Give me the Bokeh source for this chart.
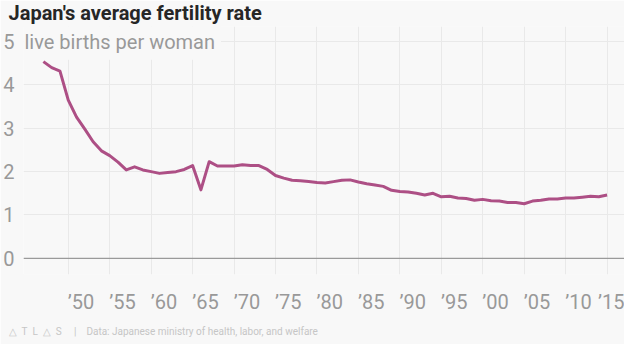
from bokeh.plotting import figure
from bokeh.models import Label, Span, FixedTicker, Range1d, Title
from bokeh.embed import file_html
from bokeh.resources import INLINE

years = list(range(1947, 2016))
fertility = [4.54, 4.40, 4.32, 3.65, 3.26, 2.98, 2.69, 2.48, 2.37, 2.22,
             2.04, 2.11, 2.04, 2.00, 1.96, 1.98, 2.00, 2.05, 2.14, 1.58,
             2.23, 2.13, 2.13, 2.13, 2.16, 2.14, 2.14, 2.05, 1.91, 1.85,
             1.80, 1.79, 1.77, 1.75, 1.74, 1.77, 1.80, 1.81, 1.76, 1.72,
             1.69, 1.66, 1.57, 1.54, 1.53, 1.50, 1.46, 1.50, 1.42, 1.43,
             1.39, 1.38, 1.34, 1.36, 1.33, 1.32, 1.29, 1.29, 1.26, 1.32,
             1.34, 1.37, 1.37, 1.39, 1.39, 1.41, 1.43, 1.42, 1.46]
x_ticks = list(range(1950, 2016, 5))
x_tick_labels = ["\u201950", "\u201955", "\u201960", "\u201965", "\u201970", "\u201975", "\u201980",
                 "\u201985", "\u201990", "\u201995", "\u201900", "\u201905", "\u201910", "\u201915"]
y_ticks = [0, 1, 2, 3, 4, 5]
y_tick_labels = ["0", "1", "2", "3", "4", "5"]

title_text = "Japan's average fertility rate"
unit_text = "live births per woman"
NB = "\u00a0"
footer_text = ("\u25B3" + NB * 2 + "T" + NB * 2 + "L" + NB * 2 + "\u25B3" + NB * 2 + "S"
               + NB * 5 + "|" + NB * 4 + "Data: Japanese ministry of health, labor, and welfare")

BG = "#f8f8f8"
GRID = "#e9e9e9"
LINE = "#ad4f85"
LABEL_SHIFT = 1.55  # tick labels start at their gridline

p = figure(width=624, height=344, output_backend="svg", toolbar_location=None,
           x_range=Range1d(1944.6, 2017.1), y_range=Range1d(-0.374, 5.35),
           min_border_left=15, min_border_right=0, min_border_top=24, min_border_bottom=60)
p.background_fill_color = BG
p.border_fill_color = BG
p.outline_line_color = None

p.title.text = title_text
p.title.text_font = "Roboto"
p.title.text_font_style = "bold"
p.title.text_font_size = "20px"
p.title.text_color = "#262626"
p.title.standoff = 0
p.title.align = "left"
p.title.offset = -15
p.title.vertical_align = "top"

p.xaxis.ticker = FixedTicker(ticks=[t + LABEL_SHIFT for t in x_ticks])
p.xaxis.major_label_overrides = {t + LABEL_SHIFT: s for t, s in zip(x_ticks, x_tick_labels)}
p.xgrid.ticker = FixedTicker(ticks=x_ticks)
p.yaxis.ticker = FixedTicker(ticks=y_ticks)
p.yaxis.major_label_overrides = dict(zip(y_ticks, y_tick_labels))
for ax in (p.xaxis[0], p.yaxis[0]):
    ax.axis_line_color = None
    ax.major_tick_line_color = None
    ax.minor_tick_line_color = None
    ax.major_label_text_color = "#999999"
    ax.major_label_text_font = "Roboto"
    ax.major_label_text_font_size = "20px"
p.xaxis.major_label_standoff = 9
p.yaxis.major_label_standoff = 3

p.xgrid.grid_line_color = GRID
p.ygrid.grid_line_color = GRID

p.add_layout(Span(location=0, dimension="width", line_color="#9a9a9a", line_width=1.2))

p.line(years, fertility, line_color=LINE, line_width=3, line_join="round")

p.add_layout(Label(x=1944.6, y=5, x_offset=-5, text=unit_text, text_font="Roboto",
                   text_font_size="20px", text_color="#999999", text_baseline="middle",
                   background_fill_color=BG, padding=6))

footer = Title(text=footer_text, align="left", offset=-15, standoff=15,
               text_font="Roboto", text_font_style="normal", text_font_size="10px",
               text_color="#c6c6c6")
p.add_layout(footer, "below")

open("out.html", "w").write(file_html(p, INLINE))
